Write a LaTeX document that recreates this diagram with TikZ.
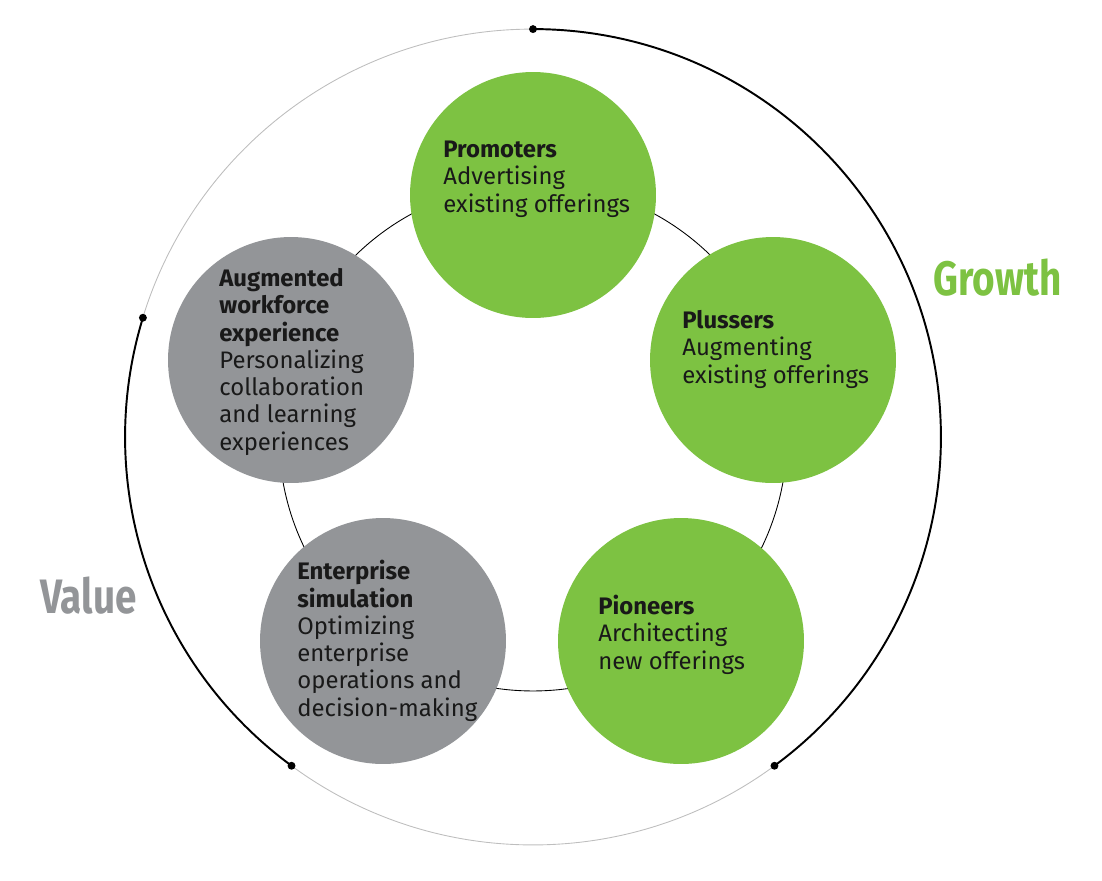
\documentclass[tikz,border=0pt]{standalone}
\usepackage{fontspec}
\setmainfont{Fira Sans}
\newfontfamily\condfont{Fira Sans}[FakeStretch=0.8]
\definecolor{growgreen}{RGB}{125,194,66}
\definecolor{valgray}{RGB}{147,149,152}
\definecolor{ringgray}{RGB}{190,190,190}
\tikzset{
  stage/.style={circle, minimum size=4.92cm, inner sep=0pt},
  growstage/.style={stage, fill=growgreen},
  valstage/.style={stage, fill=valgray},
  blurb/.style={anchor=base west, align=left, inner sep=0pt, text=black!90,
    font=\fontsize{13.6}{15.5}\selectfont},
  bigword/.style={anchor=base west, inner sep=0pt,
    font=\condfont\bfseries\fontsize{27.5}{30}\selectfont},
  dot/.style={circle, fill=black, inner sep=0pt, minimum size=4.5pt},
}
\begin{document}
\begin{tikzpicture}[x=0.02cm,y=-0.02cm]
\useasboundingbox (0,0) rectangle (1102,880);
\coordinate (ctr) at (533,437);

% outer ring with the two arcs
\draw[ringgray, line width=0.5pt] (ctr) circle (8.16cm);
\node[dot] (gtop) at ([shift={(90:8.16cm)}]ctr) {};
\node[dot] (gend) at ([shift={(-53.7:8.16cm)}]ctr) {};
\node[dot] (vtop) at ([shift={(163:8.16cm)}]ctr) {};
\node[dot] (vend) at ([shift={(233.7:8.16cm)}]ctr) {};
\draw[line width=1.1pt] (gtop.center) arc[start angle=90, end angle=-53.7, radius=8.16cm];
\draw[line width=1.1pt] (vtop.center) arc[start angle=163, end angle=233.7, radius=8.16cm];

% inner ring
\draw[line width=0.5pt] (ctr) circle (5.08cm);

% the five stages
\node[growstage] (prom) at (533,195) {};
\node[growstage] (pluss) at (773,360) {};
\node[growstage] (pion) at (681,641) {};
\node[valstage] (ent) at (383,641) {};
\node[valstage] (aug) at (291,360) {};

% texts sit on the baseline of their last line
\node[blurb] (promtxt) at (443,212) {\textbf{Promoters}\\Advertising\\existing offerings};
\node[blurb] (plusstxt) at (682,383) {\textbf{Plussers}\\Augmenting\\existing offerings};
\node[blurb] (piontxt) at (598,669) {\textbf{Pioneers}\\Architecting\\new offerings};
\node[blurb] (enttxt) at (297,716) {\textbf{Enterprise}\\\textbf{simulation}\\Optimizing\\enterprise\\operations and\\decision-making};
\node[blurb] (augtxt) at (219,450) {\textbf{Augmented}\\\textbf{workforce}\\\textbf{experience}\\Personalizing\\collaboration\\and learning\\experiences};

% side labels
\node[bigword, text=growgreen] (growth) at (933,295) {Growth};
\node[bigword, text=valgray] (value) at (40,613) {Value};
\end{tikzpicture}
\end{document}
